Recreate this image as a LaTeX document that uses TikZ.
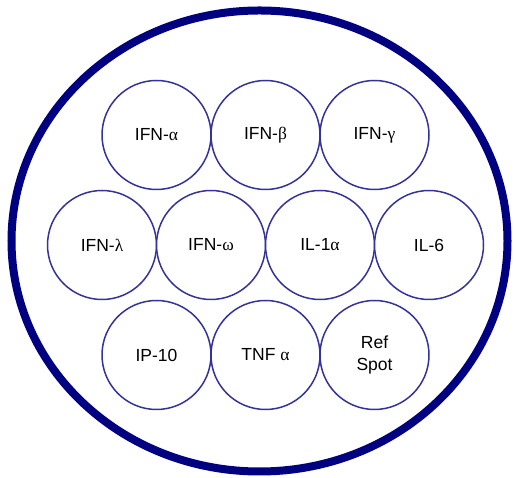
\documentclass[tikz,border=0pt]{standalone}
\usepackage{fontspec}
\setmainfont{Liberation Sans}
\newfontfamily\grk{Liberation Serif}
\usepackage{tikz}
\definecolor{navy}{rgb}{0,0,0.5}
\definecolor{spotblue}{rgb}{0.2,0.2,0.6}

\begin{document}
\begin{tikzpicture}[x=1pt, y=1pt, spot/.style = {shape=circle, draw=spotblue, line width=1.5pt, align=center, fill=white, inner sep=0pt, minimum size=109pt, font=\fontsize{17.5}{22.5}\selectfont}]
	\useasboundingbox (0,0) rectangle (516,478);
	\draw[navy, line width=8pt] (259.5,237) ellipse [x radius=248, y radius=230.5];
	% top row
	\node[spot] (ifna) at (156.5,343) {IFN-{\grk α}};
	\node[spot] (ifnb) at (265.5,343) {IFN-{\grk β}};
	\node[spot] (ifng) at (374.5,343) {IFN-{\grk γ}};
	% middle row
	\node[spot] (ifnl) at (102,233) {IFN-{\grk λ}};
	\node[spot] (ifnw) at (211,233) {IFN-{\grk ω}};
	\node[spot] (ilone) at (320,233) {IL-1{\grk α}};
	\node[spot] (ilsix) at (429,233) {IL-6};
	% bottom row
	\node[spot] (ipten) at (156.5,123) {IP-10};
	\node[spot] (tnfa) at (265.5,123) {TNF {\grk α}};
	\node[spot] (ref) at (374.5,123) {Ref\\Spot};
\end{tikzpicture}
\end{document}
